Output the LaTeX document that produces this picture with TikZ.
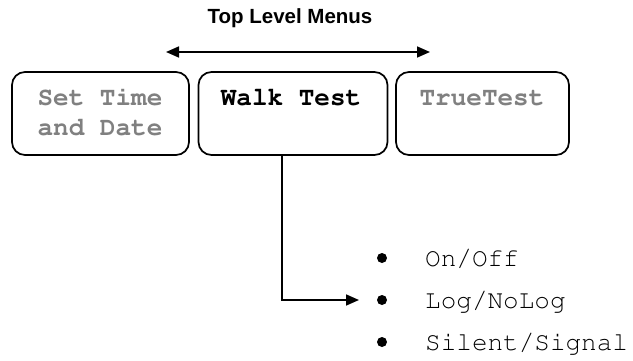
\documentclass[tikz,border=0pt]{standalone}
\usepackage{fontspec}
\setmainfont{Liberation Sans}
\newcommand{\courierfont}{\fontencoding{T1}\fontfamily{pcr}\selectfont}
\usetikzlibrary{arrows.meta}
\definecolor{dimgray}{HTML}{808080}
\begin{document}
\begin{tikzpicture}[x=1pt,y=-1pt,
  menubox/.style={draw, line width=1.7pt, rounded corners=13pt, inner sep=0pt, minimum height=83pt},
  boxtext/.style={font=\courierfont\fontsize{26}{30}\selectfont\bfseries, inner sep=0pt, anchor=base},
  itemtext/.style={font=\courierfont\fontsize{26}{30}\selectfont, inner sep=0pt, anchor=base west},
  bulletdot/.style={circle, fill=black, minimum size=10pt, inner sep=0pt},
  tip/.style={Triangle[length=13pt,width=11pt]},
  link/.style={line width=1.7pt, -{Triangle[length=13pt,width=11pt]}}]
\useasboundingbox (0,0) rectangle (633,360);
% title
\node[font=\fontsize{20.5}{24}\selectfont\bfseries, inner sep=0pt] (title) at (290,18) {Top Level Menus};
\coordinate (al) at (166,52);
\coordinate (ar) at (430,52);
\draw[line width=1.7pt, {Triangle[length=13pt,width=11pt]}-{Triangle[length=13pt,width=11pt]}] (al) -- (ar);
% boxes
\node[menubox, minimum width=177pt] (b1) at (100.5,113.5) {};
\node[menubox, minimum width=189pt] (b2) at (293,113.5) {};
\node[menubox, minimum width=173pt] (b3) at (482.5,113.5) {};
\node[boxtext, text=dimgray] (t1a) at (100,105) {Set Time};
\node[boxtext, text=dimgray] (t1b) at (100,135) {and Date};
\node[boxtext] (t2) at (291,105) {Walk Test};
\node[boxtext, text=dimgray] (t3) at (482,105) {TrueTest};
% list
\node[bulletdot] (d1) at (382,258) {};
\node[bulletdot] (d2) at (382,300) {};
\node[bulletdot] (d3) at (382,342) {};
\node[itemtext] (i1) at (425,266) {On/Off};
\node[itemtext] (i2) at (425,308) {Log/NoLog};
\node[itemtext] (i3) at (425,350) {Silent/Signal};
\coordinate (tipend) at (359,300);
\draw[link] (b2.south -| 282,0) |- (tipend);
\end{tikzpicture}
\end{document}
